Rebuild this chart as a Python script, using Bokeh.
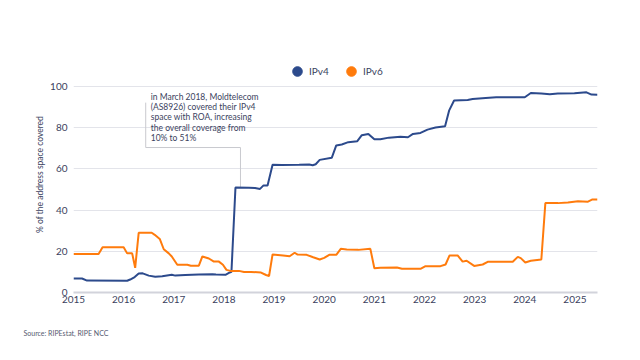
from bokeh.plotting import figure
from bokeh.models import (Legend, LegendItem, Label, Range1d, FixedTicker, Title)
from bokeh.embed import file_html
from bokeh.resources import INLINE

# ---- data (fractional year, % of address space covered) ----
ipv4_year = [2015.00, 2015.17, 2015.27, 2016.07, 2016.13, 2016.22, 2016.30, 2016.38, 2016.50,
             2016.63, 2016.77, 2016.96, 2017.03, 2017.23, 2017.50, 2017.77, 2017.84, 2018.03,
             2018.10, 2018.15, 2018.23, 2018.50, 2018.62, 2018.72, 2018.79, 2018.87, 2018.97,
             2019.15, 2019.50, 2019.70, 2019.77, 2019.83, 2019.91, 2020.15, 2020.24, 2020.35,
             2020.48, 2020.66, 2020.75, 2020.88, 2021.00, 2021.12, 2021.29, 2021.52, 2021.67,
             2021.77, 2021.92, 2022.06, 2022.22, 2022.41, 2022.49, 2022.59, 2022.86, 2022.96,
             2023.22, 2023.43, 2024.00, 2024.12, 2024.33, 2024.50, 2024.66, 2024.99, 2025.23,
             2025.33, 2025.45]
ipv4_pct = [6.8, 6.8, 5.8, 5.7, 6.3, 7.5, 9.2, 9.3, 8.2,
            7.7, 7.9, 8.6, 8.2, 8.5, 8.7, 8.9, 8.7, 8.6,
            9.5, 10.0, 51.0, 50.9, 50.7, 50.3, 52.0, 52.0, 62.0,
            61.9, 62.0, 62.2, 61.8, 62.3, 64.4, 65.4, 71.4, 71.9,
            73.0, 73.5, 76.4, 77.0, 74.4, 74.4, 75.2, 75.6, 75.4,
            77.0, 77.5, 79.1, 80.1, 80.7, 88.3, 93.2, 93.5, 94.0,
            94.5, 94.8, 94.8, 96.9, 96.6, 96.3, 96.6, 96.8, 97.2,
            96.1, 96.0]

ipv6_year = [2015.00, 2015.50, 2015.58, 2016.00, 2016.07, 2016.17, 2016.23, 2016.30, 2016.56,
             2016.62, 2016.72, 2016.80, 2016.90, 2016.96, 2017.07, 2017.27, 2017.34, 2017.50,
             2017.57, 2017.70, 2017.80, 2017.90, 2017.98, 2018.05, 2018.13, 2018.30, 2018.40,
             2018.54, 2018.74, 2018.84, 2018.90, 2018.97, 2019.18, 2019.31, 2019.41, 2019.47,
             2019.65, 2019.78, 2019.91, 2020.00, 2020.10, 2020.24, 2020.33, 2020.45, 2020.68,
             2020.92, 2021.00, 2021.12, 2021.45, 2021.55, 2021.92, 2022.02, 2022.32, 2022.42,
             2022.50, 2022.66, 2022.76, 2022.84, 2022.99, 2023.16, 2023.26, 2023.76, 2023.86,
             2023.92, 2024.01, 2024.12, 2024.33, 2024.41, 2024.66, 2024.86, 2025.06, 2025.26,
             2025.34, 2025.45]
ipv6_pct = [18.7, 18.7, 22.0, 22.0, 19.0, 19.0, 12.0, 29.0, 29.0,
            28.0, 26.0, 21.0, 19.0, 17.5, 13.5, 13.5, 13.0, 13.0,
            17.5, 16.5, 15.0, 15.0, 13.5, 11.0, 10.5, 10.5, 10.0,
            10.0, 9.7, 8.5, 8.0, 18.5, 18.0, 17.6, 19.3, 18.4,
            18.3, 17.1, 16.0, 16.8, 18.3, 18.3, 21.2, 20.9, 20.7,
            21.2, 11.8, 12.0, 12.1, 11.5, 11.5, 12.8, 12.8, 13.6,
            18.0, 18.0, 15.0, 15.4, 12.9, 13.6, 14.9, 14.9, 17.3,
            16.7, 14.6, 15.4, 16.0, 43.4, 43.4, 43.7, 44.3, 44.1,
            45.1, 45.1]

year_ticks = [2015, 2016, 2017, 2018, 2019, 2020, 2021, 2022, 2023, 2024, 2025]
pct_ticks = [0, 20, 40, 60, 80, 100]

series_names = ["IPv4", "IPv6"]
series_colors = ["#2c4a8c", "#ff7b0c"]

annotation_text = ("in March 2018, Moldtelecom\n(AS8926) covered their IPv4\n"
                   "space with ROA, increasing\nthe overall coverage from\n10% to 51%")
# callout: box left/top/bottom and the anchor point on the IPv4 jump
callout_left, callout_top, callout_bottom = 2016.44, 92.2, 70.4
callout_anchor_x, callout_anchor_y = 2018.33, 51.0

FONT = "Lato"
TXT = "#3b3f5e"

# the frame extends above 100 % to leave room for the legend
p = figure(width=640, height=360, output_backend="svg", toolbar_location=None,
           x_range=Range1d(2015, 2025.45), y_range=Range1d(0, 114.6),
           min_border_left=73, min_border_right=43, min_border_top=56, min_border_bottom=68)
p.outline_line_color = None
p.background_fill_color = "white"
p.border_fill_color = "white"

# axes
p.xaxis.ticker = FixedTicker(ticks=year_ticks)
p.yaxis.ticker = FixedTicker(ticks=pct_ticks)
for ax in (p.xaxis[0], p.yaxis[0]):
    ax.major_tick_line_color = None
    ax.minor_tick_line_color = None
    ax.major_tick_out = 0
    ax.major_tick_in = 0
    ax.minor_tick_out = 0
    ax.minor_tick_in = 0
    ax.major_label_text_font = FONT
    ax.major_label_text_font_size = "10px"
    ax.major_label_text_color = TXT
p.yaxis.axis_line_color = None
p.yaxis.major_label_standoff = 6
p.yaxis.axis_label = "% of the address space covered"
p.yaxis.axis_label_text_font = FONT
p.yaxis.axis_label_text_font_size = "8.5px"
p.yaxis.axis_label_text_font_style = "normal"
p.yaxis.axis_label_text_color = TXT
p.yaxis.axis_label_standoff = 2
p.xaxis.axis_line_color = "#d2d3db"
p.xaxis.axis_line_width = 2
p.xaxis.major_label_standoff = 3

p.xgrid.grid_line_color = None
p.ygrid.grid_line_color = "#e3e4ea"
p.ygrid.grid_line_width = 1

# callout lines
gray = "#c9cacf"
p.line([callout_left, callout_left, callout_anchor_x, callout_anchor_x],
       [callout_top, callout_bottom, callout_bottom, callout_anchor_y],
       line_color=gray, line_width=1)

# data lines
r4 = p.line(ipv4_year, ipv4_pct, line_color=series_colors[0], line_width=2)
r6 = p.line(ipv6_year, ipv6_pct, line_color=series_colors[1], line_width=2)

# legend dots (helper renderers with no visible point)
nan = float("nan")
dot4 = p.scatter([nan], [nan], marker="circle", size=10,
                 fill_color=series_colors[0], line_color=series_colors[0])
dot6 = p.scatter([nan], [nan], marker="circle", size=10,
                 fill_color=series_colors[1], line_color=series_colors[1])
legend = Legend(items=[LegendItem(label=series_names[0], renderers=[dot4], index=0),
                       LegendItem(label=series_names[1], renderers=[dot6], index=0)],
                orientation="horizontal", location=(212, 209),
                glyph_width=24, glyph_height=24, label_standoff=-9, spacing=10,
                padding=0, margin=0, border_line_color=None,
                background_fill_alpha=0,
                label_text_font=FONT, label_text_font_size="10px",
                label_text_color=TXT, label_height=10)
p.add_layout(legend, "center")

p.add_layout(Label(x=callout_left, y=callout_top, x_offset=5, y_offset=11,
                   text=annotation_text, text_font=FONT, text_font_size="8.5px",
                   text_color=TXT, text_align="left", text_baseline="top",
                   text_line_height=1.03))

p.add_layout(Title(text="Source: RIPEstat, RIPE NCC", align="left", offset=-50,
                   standoff=42, text_font=FONT, text_font_size="7px",
                   text_font_style="normal", text_color="#555a70"), "below")

open("out.html", "w").write(file_html(p, INLINE))
